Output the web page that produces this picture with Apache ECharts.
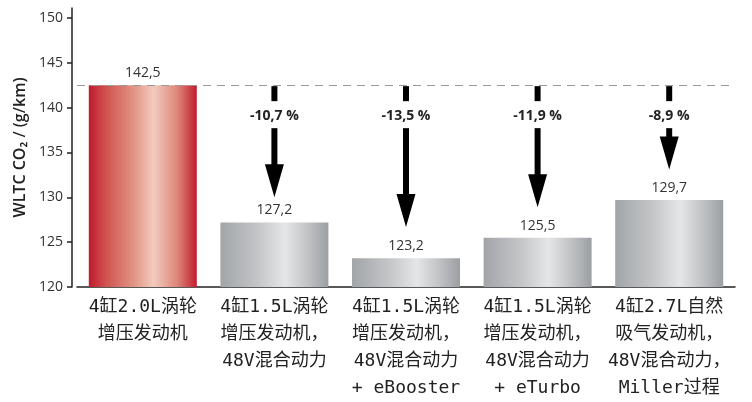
<!DOCTYPE html>
<html>
<head>
<meta charset="utf-8">
<script src="https://cdn.jsdelivr.net/npm/echarts@6/dist/echarts.min.js"></script>
<style>
html,body{margin:0;padding:0;background:#fff;}
#chart{width:752px;height:402px;}
</style>
</head>
<body>
<div id="chart"></div>
<script>
const categories = [
  '4缸2.0L涡轮\n增压发动机',
  '4缸1.5L涡轮\n增压发动机，\n48V混合动力',
  '4缸1.5L涡轮\n增压发动机，\n48V混合动力\n+ eBooster',
  '4缸1.5L涡轮\n增压发动机，\n48V混合动力\n+ eTurbo',
  '4缸2.7L自然\n吸气发动机，\n48V混合动力，\nMiller过程'
];
const co2Values = [142.5, 127.2, 123.2, 125.5, 129.7];
const referenceValue = 142.5;
const arrowCats = [1, 2, 3, 4];
const arrowTipValues = [130.0, 126.7, 128.9, 133.1];
const reductionLabels = ['-10,7 %', '-13,5 %', '-11,9 %', '-8,9 %'];
const yTickValues = [120, 125, 130, 135, 140, 145, 150];

const redGrad = new echarts.graphic.LinearGradient(0, 0, 1, 0, [
  {offset: 0, color: '#c01a2c'},
  {offset: 0.15, color: '#d0504e'},
  {offset: 0.4, color: '#e0907f'},
  {offset: 0.6, color: '#f2cbbf'},
  {offset: 0.82, color: '#dd8678'},
  {offset: 1, color: '#c21c2e'}
]);
const grayGrad = new echarts.graphic.LinearGradient(0, 0, 1, 0, [
  {offset: 0, color: '#a2a5a8'},
  {offset: 0.35, color: '#c4c6c8'},
  {offset: 0.6, color: '#e4e6e8'},
  {offset: 0.8, color: '#c2c4c6'},
  {offset: 1, color: '#9c9fa2'}
]);

const chart = echarts.init(document.getElementById('chart'));
chart.setOption({
  animation: false,
  backgroundColor: '#fff',
  grid: {left: 77, right: 17, top: 8, bottom: 114, containLabel: false},
  xAxis: {
    type: 'category',
    data: categories,
    axisLine: {lineStyle: {color: '#222', width: 1.5}},
    axisTick: {show: false},
    axisLabel: {
      interval: 0,
      margin: 7,
      color: '#222',
      fontSize: 18,
      lineHeight: 27,
      align: 'center',
      fontFamily: '"DejaVu Sans Mono", "Noto Sans CJK SC", monospace'
    }
  },
  yAxis: {
    type: 'value',
    min: 120,
    max: 151.1,
    interval: 5,
    offset: 5,
    name: 'WLTC CO₂ / (g/km)',
    nameLocation: 'middle',
    nameGap: 42,
    nameTextStyle: {color: '#222', fontSize: 16, fontWeight: 600, fontFamily: '"Open Sans", sans-serif'},
    axisLine: {show: true, lineStyle: {color: '#222', width: 1.5}},
    axisTick: {show: true, inside: false, length: 5, customValues: yTickValues, lineStyle: {color: '#222', width: 1.5}},
    axisLabel: {margin: 9, color: '#333', fontSize: 14, fontFamily: '"Open Sans", sans-serif', customValues: yTickValues},
    splitLine: {show: false}
  },
  series: [
    {
      type: 'bar',
      barWidth: 108,
      data: co2Values.map((v, i) => ({value: v, itemStyle: {color: i === 0 ? redGrad : grayGrad}})),
      label: {
        show: true,
        position: 'top',
        distance: 5,
        color: '#333',
        fontSize: 14,
        fontFamily: '"Open Sans", sans-serif',
        formatter: p => p.value.toFixed(1).replace('.', ',')
      },
      markLine: {
        silent: true,
        symbol: ['none', 'none'],
        label: {show: false},
        lineStyle: {color: '#9a9a9a', type: [8, 6], width: 1},
        data: [{yAxis: referenceValue}]
      },
      z: 2
    },
    {
      type: 'custom',
      z: 5,
      data: arrowCats.map((c, i) => [c, arrowTipValues[i]]),
      encode: {x: 0, y: 1},
      renderItem: function (params, api) {
        const cat = api.value(0);
        const tip = api.value(1);
        const top = api.coord([cat, referenceValue]);
        const end = api.coord([cat, tip]);
        const x = top[0];
        const y0 = top[1] + 1;
        const y1 = end[1];
        const sw = 6, hw = 9.5, hh = 33;
        return {
          type: 'group',
          children: [
            {type: 'rect', shape: {x: x - sw / 2, y: y0, width: sw, height: 15}, style: {fill: '#000'}},
            {type: 'text', x: x, y: y0 + 30, style: {text: reductionLabels[params.dataIndex], fill: '#222', fontSize: 14, fontWeight: 'bold', fontFamily: '"Open Sans", sans-serif', align: 'center', verticalAlign: 'middle'}},
            {type: 'rect', shape: {x: x - sw / 2, y: y0 + 42, width: sw, height: Math.max(0, y1 - hh - (y0 + 42) + 1)}, style: {fill: '#000'}},
            {type: 'polygon', shape: {points: [[x - hw, y1 - hh], [x + hw, y1 - hh], [x, y1]]}, style: {fill: '#000'}}
          ]
        };
      }
    }
  ]
});
</script>
</body>
</html>
